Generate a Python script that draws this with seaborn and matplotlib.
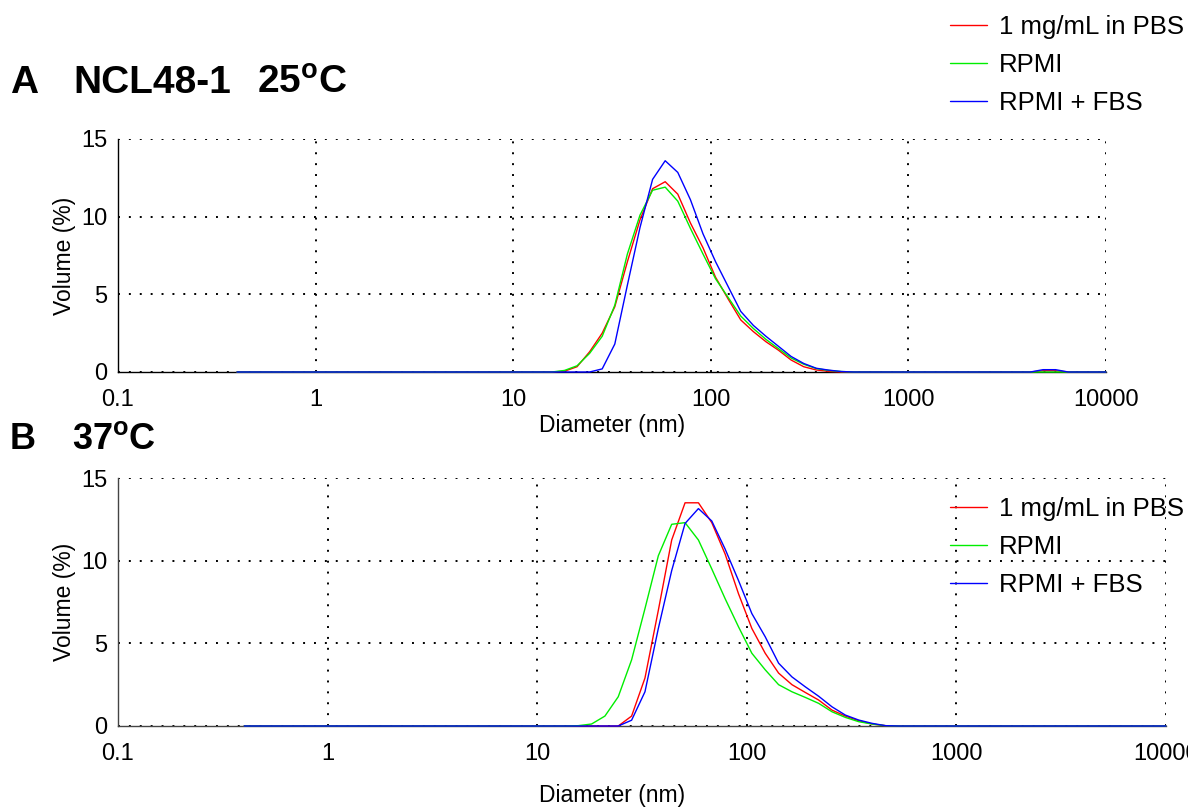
import numpy as np
import pandas as pd
import matplotlib
matplotlib.use("Agg")
import matplotlib.pyplot as plt
import seaborn as sns
from matplotlib.ticker import LogLocator, MultipleLocator, FixedLocator, FixedFormatter
from matplotlib.lines import Line2D

# Size classes of the DLS volume distribution (nm)
diameter_nm = [
    0.4, 0.4632, 0.5365, 0.6213, 0.7195, 0.8332, 0.9649, 1.117, 1.294, 1.499,
    1.736, 2.010, 2.328, 2.696, 3.122, 3.615, 4.187, 4.849, 5.615, 6.503,
    7.531, 8.721, 10.10, 11.70, 13.54, 15.69, 18.17, 21.04, 24.36, 28.21,
    32.67, 37.84, 43.82, 50.75, 58.77, 68.06, 78.82, 91.28, 105.7, 122.4,
    141.8, 164.2, 190.1, 220.2, 255.0, 295.3, 342.0, 396.1, 458.7, 531.2,
    615.1, 712.4, 825.0, 955.4, 1106, 1281, 1484, 1718, 1990, 2305,
    2669, 3091, 3580, 4145, 4801, 5560, 6439, 7456, 8635, 10000,
]

series_labels = ["1 mg/mL in PBS", "RPMI", "RPMI + FBS"]
series_colors = ["#ff0000", "#00ee00", "#0000ff"]

# Panel A, 25 °C (volume %)
pbs_25 = [
    0, 0, 0, 0, 0, 0, 0, 0, 0, 0,
    0, 0, 0, 0, 0, 0, 0, 0, 0, 0,
    0, 0, 0, 0, 0, 0, 0.05, 0.34, 1.3, 2.5,
    4.2, 7.1, 9.8, 11.8, 12.25, 11.45, 9.6, 8.0, 6.1, 4.7,
    3.35, 2.6, 1.95, 1.4, 0.77, 0.34, 0.13, 0.04, 0, 0,
    0, 0, 0, 0, 0, 0, 0, 0, 0, 0,
    0, 0, 0, 0, 0.08, 0.08, 0, 0, 0, 0,
]
rpmi_25 = [
    0, 0, 0, 0, 0, 0, 0, 0, 0, 0,
    0, 0, 0, 0, 0, 0, 0, 0, 0, 0,
    0, 0, 0, 0, 0, 0, 0.1, 0.4, 1.2, 2.3,
    4.3, 7.6, 10.1, 11.7, 11.9, 11.0, 9.25, 7.6, 6.0, 4.8,
    3.6, 2.8, 2.1, 1.5, 0.9, 0.5, 0.22, 0.1, 0.03, 0,
    0, 0, 0, 0, 0, 0, 0, 0, 0, 0,
    0, 0, 0, 0, 0, 0, 0, 0, 0, 0,
]
fbs_25 = [
    0, 0, 0, 0, 0, 0, 0, 0, 0, 0,
    0, 0, 0, 0, 0, 0, 0, 0, 0, 0,
    0, 0, 0, 0, 0, 0, 0, 0, 0, 0.2,
    1.8, 5.6, 9.3, 12.4, 13.6, 12.85, 11.1, 8.9, 7.1, 5.5,
    3.9, 3.0, 2.3, 1.65, 1.0, 0.55, 0.24, 0.12, 0.03, 0,
    0, 0, 0, 0, 0, 0, 0, 0, 0, 0,
    0, 0, 0, 0, 0.15, 0.15, 0, 0, 0, 0,
]

# Panel B, 37 °C (volume %)
pbs_37 = [
    0, 0, 0, 0, 0, 0, 0, 0, 0, 0,
    0, 0, 0, 0, 0, 0, 0, 0, 0, 0,
    0, 0, 0, 0, 0, 0, 0, 0, 0, 0.6,
    2.9, 7.0, 11.25, 13.5, 13.5, 12.3, 10.4, 8.0, 5.9, 4.4,
    3.2, 2.5, 2.03, 1.57, 0.96, 0.6, 0.32, 0.12, 0.02, 0,
    0, 0, 0, 0, 0, 0, 0, 0, 0, 0,
    0, 0, 0, 0, 0, 0, 0, 0, 0, 0,
]
rpmi_37 = [
    0, 0, 0, 0, 0, 0, 0, 0, 0, 0,
    0, 0, 0, 0, 0, 0, 0, 0, 0, 0,
    0, 0, 0, 0, 0, 0.02, 0.12, 0.6, 1.77, 4.0,
    7.1, 10.3, 12.2, 12.3, 11.25, 9.5, 7.7, 6.0, 4.4, 3.4,
    2.5, 2.07, 1.73, 1.37, 0.86, 0.52, 0.26, 0.12, 0.02, 0,
    0, 0, 0, 0, 0, 0, 0, 0, 0, 0,
    0, 0, 0, 0, 0, 0, 0, 0, 0, 0,
]
fbs_37 = [
    0, 0, 0, 0, 0, 0, 0, 0, 0, 0,
    0, 0, 0, 0, 0, 0, 0, 0, 0, 0,
    0, 0, 0, 0, 0, 0, 0, 0, 0, 0.35,
    2.07, 5.9, 9.4, 12.25, 13.15, 12.4, 10.7, 8.8, 6.8, 5.4,
    3.8, 2.97, 2.37, 1.8, 1.16, 0.66, 0.36, 0.16, 0.02, 0,
    0, 0, 0, 0, 0, 0, 0, 0, 0, 0,
    0, 0, 0, 0, 0, 0, 0, 0, 0, 0,
]

x_tick_values = [0.1, 1, 10, 100, 1000, 10000]
x_tick_labels = ["0.1", "1", "10", "100", "1000", "10000"]
y_tick_values = [0, 5, 10, 15]

sns.set_style("white")
plt.rcParams["font.family"] = ["Liberation Sans", "DejaVu Sans"]
plt.rcParams["mathtext.fontset"] = "custom"
plt.rcParams["mathtext.rm"] = "Liberation Sans"
plt.rcParams["mathtext.bf"] = "Liberation Sans:bold"
for key in ("text.color", "axes.labelcolor", "xtick.color", "ytick.color", "legend.labelcolor"):
    plt.rcParams[key] = "black"

W, H = 1188, 807
fig = plt.figure(figsize=(W / 100, H / 100), dpi=100)


def frac_axes(left, top, right, bottom):
    return fig.add_axes([left / W, 1 - bottom / H, (right - left) / W, (bottom - top) / H])


def style_panel(ax, spine_color):
    ax.set_xscale("log")
    ax.set_xlim(0.1, 10000)
    ax.set_ylim(0, 15)
    for side in ("top", "right"):
        ax.spines[side].set_visible(False)
    for side in ("left", "bottom"):
        ax.spines[side].set_color(spine_color)
        ax.spines[side].set_linewidth(1.0)
    ax.xaxis.set_major_locator(FixedLocator(x_tick_values))
    ax.xaxis.set_major_formatter(FixedFormatter(x_tick_labels))
    ax.xaxis.set_minor_locator(LogLocator(base=10, subs=np.arange(2, 10), numticks=20))
    ax.yaxis.set_major_locator(FixedLocator(y_tick_values))
    ax.yaxis.set_minor_locator(MultipleLocator(2.5))
    ax.tick_params(axis="both", which="major", direction="inout", length=9, width=1.0,
                   color=spine_color, labelsize=17, labelcolor="black")
    ax.tick_params(axis="both", which="minor", direction="inout", length=7, width=1.0,
                   color=spine_color)
    ax.tick_params(axis="y", which="minor", direction="in", length=7)
    ax.tick_params(axis="x", which="major", pad=8)
    ax.tick_params(axis="y", which="major", pad=3)
    ax.grid(True, which="major", color="black", linestyle=(0, (1, 4.6)), linewidth=1.4)
    ax.set_ylabel("Volume (%)", fontsize=16.5, labelpad=4, color="black")


def draw_panel(ax, values):
    for vals, label, color in zip(values, series_labels, series_colors):
        df = pd.DataFrame({"Diameter (nm)": diameter_nm, "Volume (%)": vals})
        sns.lineplot(data=df, x="Diameter (nm)", y="Volume (%)", ax=ax, color=color,
                     linewidth=1.0, estimator=None, label=label, legend=False,
                     zorder=3, clip_on=False)


ax_a = frac_axes(118, 139, 1106, 372)
draw_panel(ax_a, [pbs_25, rpmi_25, fbs_25])
style_panel(ax_a, "black")
ax_a.set_xlabel("Diameter (nm)", fontsize=16.5, labelpad=2, color="black")

ax_b = frac_axes(118, 478, 1166, 726)
draw_panel(ax_b, [pbs_37, rpmi_37, fbs_37])
style_panel(ax_b, "#444444")
ax_b.set_xlabel("Diameter (nm)", fontsize=16.5, color="black")
ax_b.xaxis.set_label_coords((612 - 118) / (1166 - 118), -0.232)

# Panel headings
head = dict(fontweight="bold", va="baseline", color="black")
fig.text(10 / W, 1 - 93 / H, "A", fontsize=28, **head)
fig.text(73 / W, 1 - 93 / H, "NCL48-1", fontsize=28, **head)
fig.text(257 / W, 1 - 93 / H, r"25$^{\mathbf{o}}$C", fontsize=28, **head)
fig.text(10 / W, 1 - 449 / H, "B", fontsize=26, **head)
fig.text(72 / W, 1 - 449 / H, r"37$^{\mathbf{o}}$C", fontsize=26, **head)

legend_handles = [Line2D([], [], color=c, linewidth=1.0) for c in series_colors]
legend_kw = dict(frameon=False, fontsize=18.5, handlelength=1.45, handletextpad=0.45,
                 labelspacing=0.55, borderpad=0, borderaxespad=0, loc="upper left",
                 labelcolor="black")
fig.legend(legend_handles, series_labels, bbox_to_anchor=(950 / W, 1 - 15 / H), **legend_kw)
ax_b.legend(legend_handles, series_labels,
            bbox_to_anchor=(950 / W, 1 - 497 / H), bbox_transform=fig.transFigure, **legend_kw)

fig.savefig("out.png", dpi=100)
